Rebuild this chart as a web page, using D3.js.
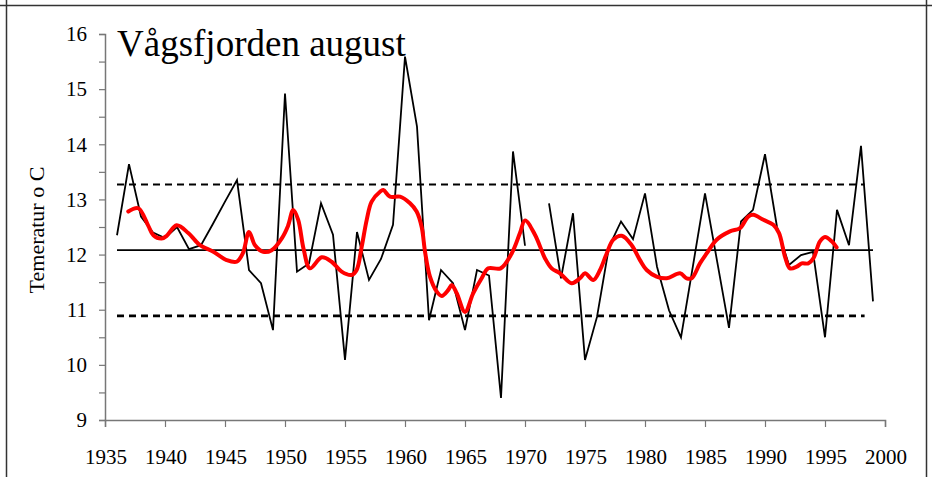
<!DOCTYPE html>
<html>
<head>
<meta charset="utf-8">
<script src="https://cdn.jsdelivr.net/npm/d3@7"></script>
<style>
    html, body { margin: 0; padding: 0; background: #fff; }
</style>
</head>
<body>
<div id="chart"></div>
<script>

// August temperatures, one value per year (null = no measurement)
var years = d3.range(1936, 2000);
var temps = [
    12.35, 13.64, 12.69, 12.40, 12.30, 12.50, 12.10, 12.17, 12.56, 12.96,   // 1936-1945
    13.35, 11.72, 11.48, 10.63, 14.92, 11.69, 11.84, 12.93, 12.36, 10.09,   // 1946-1955
    12.41, 11.54, 11.92, 12.54, 15.59, 14.32, 10.81, 11.72, 11.48, 10.63,   // 1956-1965
    11.72, 11.62, 9.40, 13.87, 12.16, null, 12.93, 11.57, 12.75, 10.09,     // 1966-1975
    10.87, 12.14, 12.60, 12.28, 13.11, 11.78, 10.99, 10.50, 11.80, 13.11,   // 1976-1985
    11.89, 10.67, 12.60, 12.81, 13.82, 12.50, 11.81, 11.99, 12.05, 10.50,   // 1986-1995
    12.81, 12.17, 13.97, 11.15                                              // 1996-1999
];

// smoothed curve as (year, value)
var smoothYears = [
    1936.94, 1937.78, 1938.61, 1939.03, 1939.72, 1940.14, 1940.97, 1941.94, 1942.50, 1942.92,
    1944.03, 1945.14, 1945.97, 1946.50, 1947.00, 1947.50, 1948.19, 1948.89, 1949.72, 1950.25,
    1950.69, 1951.10, 1951.55, 1952.08, 1953.06, 1953.89, 1954.72, 1955.56, 1955.97, 1956.39,
    1956.81, 1957.22, 1957.92, 1958.19, 1958.75, 1959.58, 1960.42, 1960.97, 1961.39, 1961.67,
    1962.08, 1962.64, 1963.06, 1963.61, 1963.89, 1964.31, 1965.00, 1965.69, 1966.39, 1966.94,
    1967.97, 1968.89, 1969.58, 1970.00, 1970.83, 1971.67, 1972.22, 1972.92, 1973.89, 1974.58,
    1975.00, 1975.69, 1976.25, 1976.81, 1977.36, 1978.06, 1978.89, 1979.58, 1980.14, 1980.97,
    1981.81, 1982.92, 1983.47, 1983.89, 1984.58, 1985.14, 1985.97, 1987.08, 1987.92, 1988.61,
    1989.03, 1989.86, 1990.69, 1991.17, 1991.67, 1992.08, 1992.64, 1993.06, 1993.61, 1994.03,
    1994.58, 1995.00, 1995.56, 1995.97
];
var smoothTemps = [
    12.78, 12.84, 12.52, 12.35, 12.29, 12.34, 12.53, 12.39, 12.26, 12.17,
    12.05, 11.90, 11.87, 12.03, 12.41, 12.17, 12.05, 12.08, 12.29, 12.52,
    12.81, 12.63, 12.10, 11.75, 11.95, 11.87, 11.69, 11.63, 11.72, 12.14,
    12.63, 12.96, 13.14, 13.17, 13.05, 13.05, 12.93, 12.78, 12.50, 12.05,
    11.60, 11.33, 11.25, 11.36, 11.45, 11.30, 10.96, 11.30, 11.57, 11.75,
    11.75, 12.02, 12.39, 12.62, 12.36, 11.93, 11.75, 11.66, 11.48, 11.57,
    11.66, 11.54, 11.72, 12.02, 12.27, 12.34, 12.17, 11.90, 11.72, 11.60,
    11.57, 11.66, 11.57, 11.57, 11.84, 12.02, 12.27, 12.42, 12.48, 12.69,
    12.72, 12.63, 12.54, 12.39, 11.96, 11.75, 11.78, 11.84, 11.84, 11.93,
    12.24, 12.32, 12.24, 12.13
];

// reference lines: mean and mean +/- one standard deviation
var refNames = ['upper', 'mean', 'lower'];
var refValues = [13.27, 12.08, 10.89];
var refEnds = [1998.3, 1999, 1998.3];

var xTicks = d3.range(1935, 2001, 5);
var yTicks = d3.range(9, 16.01, 0.5);
var yLabels = d3.range(9, 17, 1);

var title = 'Vågsfjorden august';
var yTitle = 'Temeratur o C';

var font = '"Liberation Serif", "Times New Roman", Times, "DejaVu Serif", serif';
var width = 932, height = 477;

var x = d3.scaleLinear()
        .domain([1935, 2000])
        .range([105, 885]);

var y = d3.scaleLinear()
        .domain([9, 16])
        .range([420, 34]);

var svg = d3.select('#chart')
        .append('svg')
        .attr('width', width)
        .attr('height', height)
        .style('font-family', font);

// outer frame of the pasted chart
svg.append('line')
        .attr('x1', 0).attr('x2', width)
        .attr('y1', 5.5).attr('y2', 5.5)
        .attr('stroke', '#333').attr('stroke-width', 1.5);
svg.selectAll('.frame')
        .data([6.5, 926.5])
        .enter().append('line')
        .attr('class', 'frame')
        .attr('x1', function (d) { return d; })
        .attr('x2', function (d) { return d; })
        .attr('y1', 0).attr('y2', height)
        .attr('stroke', '#333').attr('stroke-width', 1.5);

// y axis
var yAxis = d3.axisLeft(y)
        .tickValues(yTicks)
        .tickSize(6)
        .tickFormat('');

var gy = svg.append('g')
        .attr('transform', 'translate(105,0)')
        .call(yAxis);
gy.select('.domain').attr('stroke', '#777').attr('stroke-width', 1.5);
gy.selectAll('.tick line').attr('stroke', '#777').attr('stroke-width', 1.2);

svg.selectAll('.ylabel')
        .data(yLabels)
        .enter().append('text')
        .attr('class', 'ylabel')
        .attr('x', 87)
        .attr('y', function (d) { return y(d); })
        .attr('dy', '0.35em')
        .attr('text-anchor', 'end')
        .attr('font-family', font)
        .style('font-size', '21px')
        .text(function (d) { return d; });

// x axis
var xAxis = d3.axisBottom(x)
        .tickValues(xTicks)
        .tickSize(7)
        .tickFormat('');

var gx = svg.append('g')
        .attr('transform', 'translate(0,420)')
        .call(xAxis);
gx.select('.domain').attr('stroke', '#777').attr('stroke-width', 1.5);
gx.selectAll('.tick line').attr('stroke', '#777').attr('stroke-width', 1.2);

svg.selectAll('.xlabel')
        .data(xTicks)
        .enter().append('text')
        .attr('class', 'xlabel')
        .attr('x', function (d) { return x(d) + 1; })
        .attr('y', 464)
        .attr('text-anchor', 'middle')
        .attr('font-family', font)
        .style('font-size', '21px')
        .text(function (d) { return d; });

// axis title
svg.append('text')
        .attr('transform', 'translate(44,230) rotate(-90)')
        .attr('text-anchor', 'middle')
        .attr('font-family', font)
        .style('font-size', '22px')
        .text(yTitle);

// chart title
svg.append('text')
        .attr('x', 117)
        .attr('y', 56)
        .attr('font-family', font)
        .style('font-size', '37px')
        .text(title);

// reference lines
svg.selectAll('.ref')
        .data(refNames)
        .enter().append('line')
        .attr('class', 'ref')
        .attr('x1', x(1936))
        .attr('x2', function (d, i) { return x(refEnds[i]); })
        .attr('y1', function (d, i) { return y(refValues[i]); })
        .attr('y2', function (d, i) { return y(refValues[i]); })
        .attr('stroke', '#000')
        .attr('stroke-width', function (d) { return d === 'mean' ? 1.8 : (d === 'lower' ? 2.8 : 2); })
        .attr('stroke-dasharray', function (d) { return d === 'mean' ? null : '7,5'; });

// yearly series
var line = d3.line()
        .defined(function (d) { return d[1] !== null; })
        .x(function (d) { return x(d[0]); })
        .y(function (d) { return y(d[1]); });

svg.append('path')
        .datum(years.map(function (yr, i) { return [yr, temps[i]]; }))
        .attr('d', line)
        .attr('fill', 'none')
        .attr('stroke', '#000')
        .attr('stroke-width', 1.8)
        .attr('stroke-linejoin', 'miter');

// smoothed series
var smoothLine = d3.line()
        .curve(d3.curveCatmullRom)
        .x(function (d) { return x(d[0]); })
        .y(function (d) { return y(d[1]); });

svg.append('path')
        .datum(smoothYears.map(function (yr, i) { return [yr, smoothTemps[i]]; }))
        .attr('d', smoothLine)
        .attr('fill', 'none')
        .attr('stroke', '#ff0000')
        .attr('stroke-width', 4)
        .attr('stroke-linejoin', 'round')
        .attr('stroke-linecap', 'round');

</script>
</body>
</html>
